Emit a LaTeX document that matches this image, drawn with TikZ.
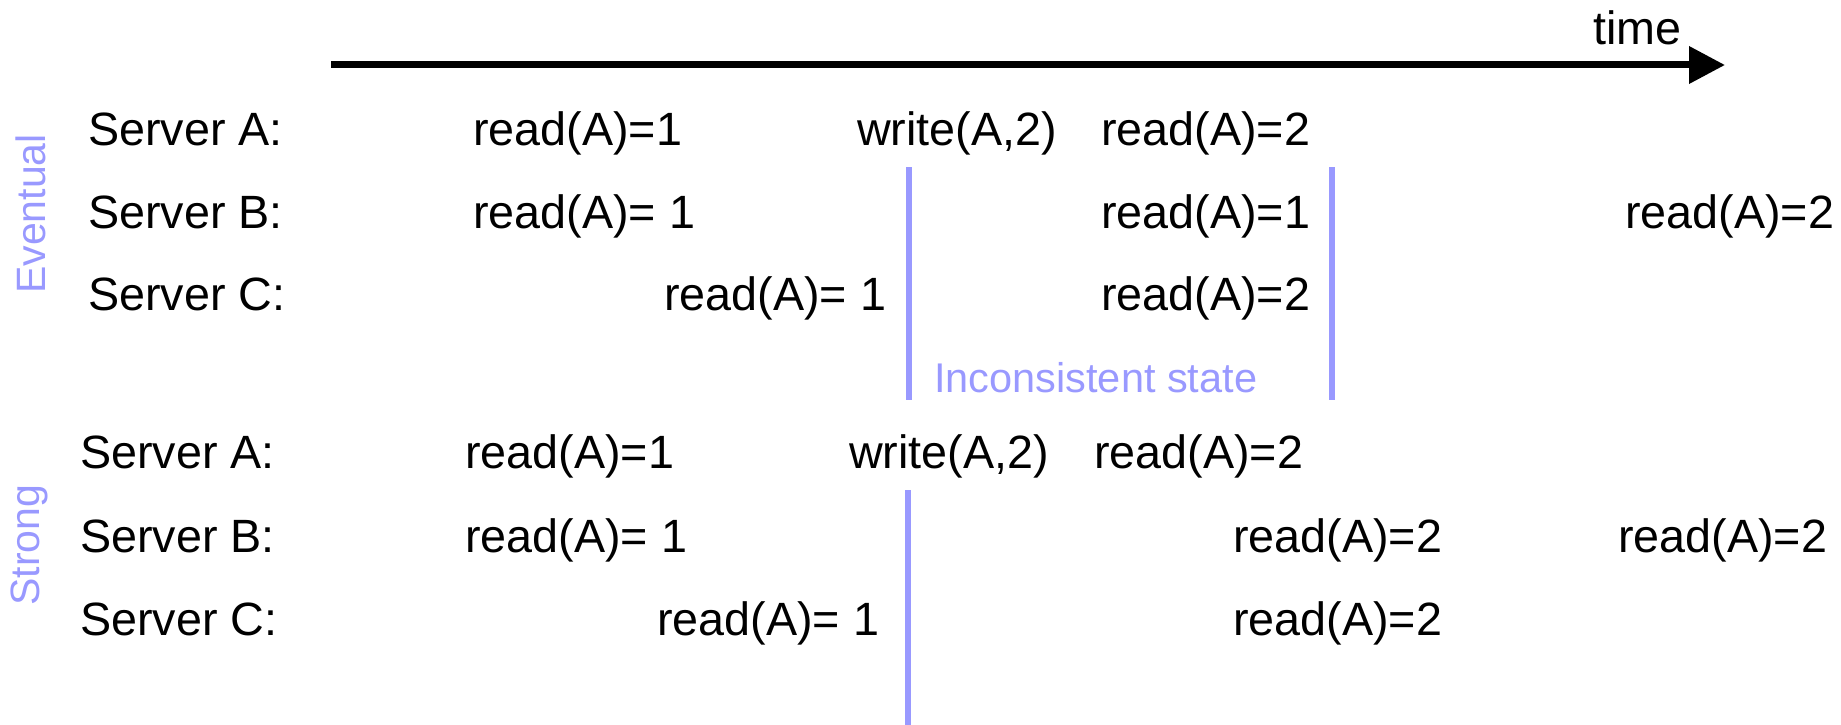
\documentclass[tikz,border=0pt]{standalone}
\usepackage{fontspec}
\setmainfont{Liberation Sans}
\usetikzlibrary{arrows.meta}
\definecolor{lav}{HTML}{9999FF}
\begin{document}
\begin{tikzpicture}[x=1pt,y=-1pt,
  lbl/.style={anchor=base west, inner sep=0pt, font=\fontsize{46.7}{56}\selectfont},
  side/.style={text=lav, inner sep=0pt, rotate=90, font=\fontsize{41}{48}\selectfont},
  note/.style={anchor=base west, inner sep=0pt, text=lav, font=\fontsize{41.5}{48}\selectfont},
  sepline/.style={draw=lav, line width=6pt},
  timeline/.style={line width=7pt, -{Triangle[length=36pt,width=36pt]}}]
\fill[white] (0,0) rectangle (1841,725);
\useasboundingbox (0,0) rectangle (1841,725);

% time axis
\coordinate (t0) at (331,65);
\coordinate (t1) at (1725,65);
\draw[timeline] (t0) -- (t1);
\node[lbl] (time) at (1593,45) {time};

% side labels
\node[side] (ev) at (31,214) {Eventual};
\node[side] (st) at (29,545) {Strong};

% eventual consistency
\node[lbl] (ea) at (88,145) {Server A:};
\node[lbl] (eb) at (88,228) {Server B:};
\node[lbl] (ec) at (88,310) {Server C:};
\node[lbl] (ea1) at (473,145) {read(A)=1};
\node[lbl] (ea2) at (857,145) {write(A,2)};
\node[lbl] (ea3) at (1101,145) {read(A)=2};
\node[lbl] (eb1) at (473,228) {read(A)= 1};
\node[lbl] (eb2) at (1101,228) {read(A)=1};
\node[lbl] (eb3) at (1625,228) {read(A)=2};
\node[lbl] (ec1) at (664,310) {read(A)= 1};
\node[lbl] (ec2) at (1101,310) {read(A)=2};
\coordinate (l1t) at (909,167);
\coordinate (l1b) at (909,400);
\coordinate (l2t) at (1332,167);
\coordinate (l2b) at (1332,400);
\draw[sepline] (l1t) -- (l1b);
\draw[sepline] (l2t) -- (l2b);
\node[note] (inc) at (934,392) {Inconsistent state};

% strong consistency
\node[lbl] (sa) at (80,468) {Server A:};
\node[lbl] (sb) at (80,552) {Server B:};
\node[lbl] (sc) at (80,635) {Server C:};
\node[lbl] (sa1) at (465,468) {read(A)=1};
\node[lbl] (sa2) at (849,468) {write(A,2)};
\node[lbl] (sa3) at (1094,468) {read(A)=2};
\node[lbl] (sb1) at (465,552) {read(A)= 1};
\node[lbl] (sb2) at (1233,552) {read(A)=2};
\node[lbl] (sb3) at (1618,552) {read(A)=2};
\node[lbl] (sc1) at (657,635) {read(A)= 1};
\node[lbl] (sc2) at (1233,635) {read(A)=2};
\coordinate (l3t) at (908,490);
\coordinate (l3b) at (908,725);
\draw[sepline] (l3t) -- (l3b);
\end{tikzpicture}
\end{document}
